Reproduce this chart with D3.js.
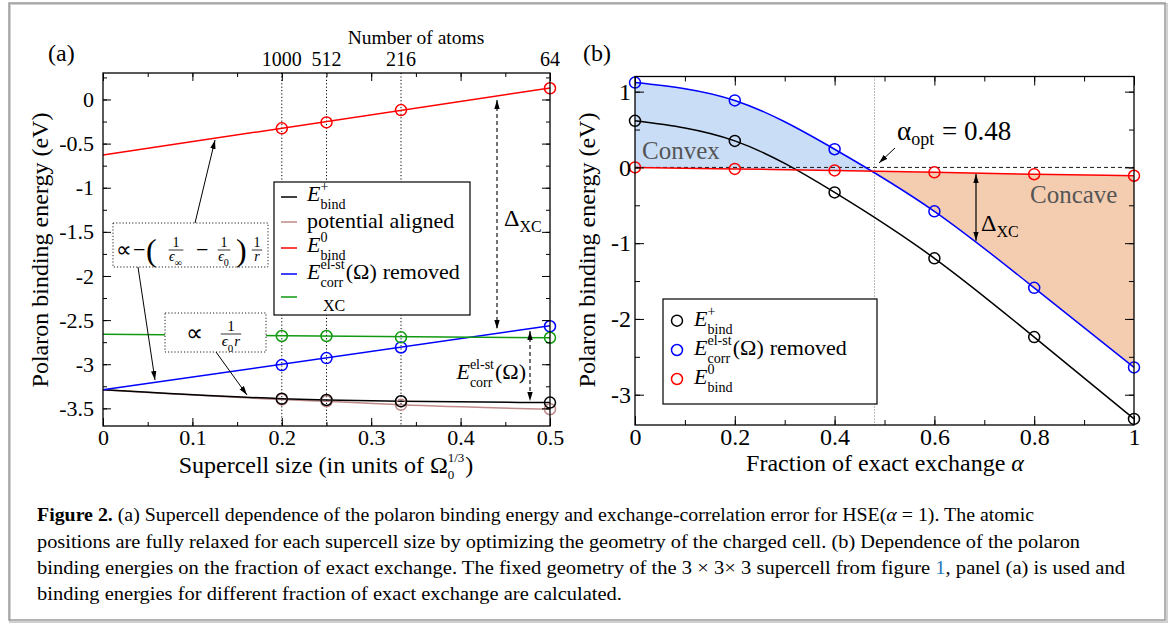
<!DOCTYPE html>
<html>
<head>
<meta charset="utf-8">
<script src="https://cdn.jsdelivr.net/npm/d3@7"></script>
<style>
body { margin: 0; background: #fff; }
svg, svg text { font-family: "Liberation Serif", "Times New Roman", Times, serif; }
</style>
</head>
<body>
<svg id="fig" width="1171" height="626" font-family="Liberation Serif, serif"></svg>
<script>
// panel (a): supercell size in units of Omega0^(1/3)
var sizes = [0.2, 0.25, 1/3, 0.5]
var atoms = ["1000", "512", "216", "64"]
var eBind = [-3.39, -3.405, -3.42, -3.435]
var eAligned = [-3.40, -3.42, -3.46, -3.51]
var eZero = [-0.327, -0.26, -0.12, 0.127]
var eRemoved = [-3.01, -2.93, -2.81, -2.57]
var eXC = [-2.68, -2.68, -2.695, -2.70]
// fitted lines, values at size 0 and size 0.5
var fitZero = [-0.63, 0.13]
var fitRemoved = [-3.29, -2.565]
var fitXC = [-2.66, -2.70]
var bindStart = -3.29
var aTicksX = [0, 0.1, 0.2, 0.3, 0.4, 0.5]
var aTicksY = [0, -0.5, -1, -1.5, -2, -2.5, -3, -3.5]

// panel (b): fraction of exact exchange
var alphas = [0, 0.2, 0.4, 0.6, 0.8, 1]
var bBind = [0.615, 0.35, -0.33, -1.20, -2.24, -3.32]
var bRemoved = [1.12, 0.884, 0.24, -0.58, -1.59, -2.64]
var bZero = [0, -0.02, -0.04, -0.065, -0.09, -0.11]
var alphaOpt = 0.48
var bTicksX = [0, 0.2, 0.4, 0.6, 0.8, 1]
var bTicksY = [1, 0, -1, -2, -3]

var NB = "\u00a0"
var svg = d3.select("#fig")
var defs = svg.append("defs")

defs.append("marker").attr("id", "ah")
	.attr("viewBox", "0 0 10 10").attr("refX", 10).attr("refY", 5)
	.attr("markerWidth", 9).attr("markerHeight", 9)
	.attr("markerUnits", "userSpaceOnUse").attr("orient", "auto-start-reverse")
	.append("path").attr("d", "M0,2L10,5L0,8Z").attr("fill", "#000")

// outer frame
svg.append("rect").attr("x", 10).attr("y", 4).attr("width", 1157).attr("height", 618)
	.attr("fill", "none").attr("stroke", "#d0d0d0").attr("stroke-width", 2)
svg.append("rect").attr("x", 9).attr("y", 3).attr("width", 1156).attr("height", 617)
	.attr("fill", "none").attr("stroke", "#9a9a9a").attr("stroke-width", 1.5)

// text with stacked super/subscripts
function mtext(g, x, y, pieces, fs, anchor) {
	var t = g.append("g")
	var cx = 0
	pieces.forEach(function(p) {
		if (p.t != null) {
			var el = t.append("text").attr("x", cx).attr("y", p.dy || 0)
				.attr("font-size", p.fs || fs).text(p.t.replace(/ /g, NB))
			if (p.i) el.attr("font-style", "italic")
			cx += el.node().getComputedTextLength() + (p.gap || 0)
		} else {
			var s = p.fs || fs * 0.64, w = 0
			if (p.sup) {
				var a = t.append("text").attr("x", cx).attr("y", -fs * (p.supOff || 0.46)).attr("font-size", s).text(p.sup)
				w = Math.max(w, a.node().getComputedTextLength())
			}
			if (p.sub) {
				var b = t.append("text").attr("x", cx).attr("y", fs * (p.subOff || 0.37)).attr("font-size", s).text(p.sub)
				w = Math.max(w, b.node().getComputedTextLength())
			}
			cx += w + 1
		}
	})
	var dx = anchor == "middle" ? -cx / 2 : anchor == "end" ? -cx : 0
	t.attr("transform", "translate(" + (x + dx) + "," + y + ")")
	return t
}

function frac(g, cx, cy, num, den, fs) {
	g.append("text").attr("x", cx).attr("y", cy - 3).attr("text-anchor", "middle")
		.attr("font-size", fs).text(num)
	var d = mtext(g, cx, cy + fs * 0.8, den, fs, "middle")
	var w = Math.max(d.node().getBBox().width, fs * 0.6) + 2
	g.append("line").attr("x1", cx - w / 2).attr("x2", cx + w / 2).attr("y1", cy).attr("y2", cy)
		.attr("stroke", "#000").attr("stroke-width", 0.8)
}

function axes(g, x, y, o) {
	var fmt = function(d) { return String(d) }
	var add = function(axis, tx) {
		var a = g.append("g").attr("transform", tx).call(axis)
		a.select(".domain").remove()
		a.attr("font-family", null).attr("font-size", o.fs)
		a.selectAll("line").attr("stroke", "#000")
		return a
	}
	var x0 = x.range()[0], x1 = x.range()[1], y0 = y.range()[0], y1 = y.range()[1]
	add(d3.axisBottom(x).tickValues(o.xm).tickSize(-o.minor).tickFormat(""), "translate(0," + y0 + ")")
	add(d3.axisTop(x).tickValues(o.xm).tickSize(-o.minor).tickFormat(""), "translate(0," + y1 + ")")
	add(d3.axisLeft(y).tickValues(o.ym).tickSize(-o.minor).tickFormat(""), "translate(" + x0 + ",0)")
	add(d3.axisRight(y).tickValues(o.ym).tickSize(-o.minor).tickFormat(""), "translate(" + x1 + ",0)")
	add(d3.axisBottom(x).tickValues(o.xt).tickSize(-o.major).tickPadding(3).tickFormat(fmt), "translate(0," + y0 + ")")
	add(d3.axisTop(x).tickValues(o.xt).tickSize(-o.major).tickFormat(""), "translate(0," + y1 + ")")
	add(d3.axisLeft(y).tickValues(o.yt).tickSize(-o.major).tickPadding(o.padY).tickFormat(fmt), "translate(" + x0 + ",0)")
	add(d3.axisRight(y).tickValues(o.yt).tickSize(-o.major).tickFormat(""), "translate(" + x1 + ",0)")
	g.append("rect").attr("x", x0).attr("y", y1).attr("width", x1 - x0).attr("height", y0 - y1)
		.attr("fill", "none").attr("stroke", "#000").attr("stroke-width", 1.3)
}

// ---------------- panel (a) ----------------
var xa = d3.scaleLinear().domain([0, 0.5]).range([103, 550])
var ya = d3.scaleLinear().domain([-3.7, 0.3]).range([426, 73])
var ga = svg.append("g")
var lineA = d3.line().x(function(d) { return xa(d[0]) }).y(function(d) { return ya(d[1]) })
var pts = function(vals) { return sizes.map(function(s, i) { return [s, vals[i]] }) }

sizes.slice(0, 3).forEach(function(s) {
	ga.append("line").attr("x1", xa(s)).attr("x2", xa(s)).attr("y1", ya.range()[1]).attr("y2", ya.range()[0])
		.attr("stroke", "#000").attr("stroke-width", 1).attr("stroke-dasharray", "1.2,2.2")
})

var seriesA = [
	{color: "#c08a8a", line: [[0, bindStart]].concat(pts(eAligned)), vals: eAligned, curve: d3.curveMonotoneX},
	{color: "#000", line: [[0, bindStart]].concat(pts(eBind)), vals: eBind, curve: d3.curveMonotoneX},
	{color: "#ff0000", line: [[0, fitZero[0]], [0.5, fitZero[1]]], vals: eZero, curve: d3.curveLinear},
	{color: "#0000ff", line: [[0, fitRemoved[0]], [0.5, fitRemoved[1]]], vals: eRemoved, curve: d3.curveLinear},
	{color: "#119911", line: [[0, fitXC[0]], [0.5, fitXC[1]]], vals: eXC, curve: d3.curveLinear}
]
seriesA.forEach(function(s) {
	ga.append("path").attr("d", lineA.curve(s.curve)(s.line))
		.attr("fill", "none").attr("stroke", s.color).attr("stroke-width", 1.5)
})
seriesA.forEach(function(s) {
	ga.selectAll(null).data(pts(s.vals)).join("circle")
		.attr("cx", function(d) { return xa(d[0]) }).attr("cy", function(d) { return ya(d[1]) })
		.attr("r", 5.5).attr("fill", "none").attr("stroke", s.color).attr("stroke-width", 1.5)
})

axes(ga, xa, ya, {xt: aTicksX, xm: d3.range(0, 0.51, 0.05), yt: aTicksY, ym: d3.range(-3.5, 0.3, 0.25),
	major: 8, minor: 4, fs: 22, padY: 9})

// top axis: number of atoms
sizes.forEach(function(s, i) {
	ga.append("text").attr("x", xa(s)).attr("y", 66).attr("text-anchor", "middle")
		.attr("font-size", 20).text(atoms[i])
})
ga.append("text").attr("x", 416).attr("y", 44).attr("text-anchor", "middle")
	.attr("font-size", 19.5).text("Number of atoms")
ga.append("text").attr("x", 48).attr("y", 61).attr("font-size", 24).text("(a)")

ga.append("text").attr("transform", "translate(48,250) rotate(-90)").attr("text-anchor", "middle")
	.attr("font-size", 24).text("Polaron binding energy (eV)")
mtext(ga, 326, 473, [{t: "Supercell size (in units of Ω"}, {sub: "0", sup: "1/3", fs: 13, subOff: 0.25, supOff: 0.45}, {t: ")"}], 24, "middle")

// legend (a)
var la = ga.append("g")
la.append("rect").attr("x", 274).attr("y", 182).attr("width", 196).attr("height", 133)
	.attr("fill", "#fff").attr("stroke", "#000").attr("stroke-width", 1.2)
var legA = [
	{color: "#000", y: 197, pieces: [{t: "E", i: true}, {sup: "+", sub: "bind"}], ty: 201},
	{color: "#c08a8a", y: 222, pieces: [{t: "potential aligned"}], ty: 228},
	{color: "#ff0000", y: 248, pieces: [{t: "E", i: true}, {sup: "0", sub: "bind"}], ty: 252},
	{color: "#0000ff", y: 274, pieces: [{t: "E", i: true}, {sup: "el-st", sub: "corr"}, {t: "(Ω)", gap: 6}, {t: "removed"}], ty: 279},
	{color: "#119911", y: 297, pieces: [{t: "XC", fs: 16}], ty: 311, tx: 323}
]
legA.forEach(function(d) {
	la.append("line").attr("x1", 281).attr("x2", 297).attr("y1", d.y).attr("y2", d.y)
		.attr("stroke", d.color).attr("stroke-width", 1.5)
	mtext(la, d.tx || 307, d.ty, d.pieces, 22)
})

// annotation boxes
var box1 = ga.append("g")
box1.append("rect").attr("x", 113).attr("y", 223).attr("width", 155).attr("height", 44)
	.attr("fill", "#fff").attr("stroke", "#222").attr("stroke-width", 1).attr("stroke-dasharray", "1.2,2")
box1.append("text").attr("x", 116).attr("y", 257).attr("font-size", 22).text("∝")
box1.append("text").attr("x", 133).attr("y", 257).attr("font-size", 22).text("−")
box1.append("text").attr("x", 146).attr("y", 261).attr("font-size", 32).text("(")
frac(box1, 176, 250, "1", [{t: "ϵ", i: true}, {sub: "∞", fs: 10}], 14)
box1.append("text").attr("x", 196).attr("y", 257).attr("font-size", 22).text("−")
frac(box1, 224, 250, "1", [{t: "ϵ", i: true}, {sub: "0", fs: 10}], 14)
box1.append("text").attr("x", 236).attr("y", 261).attr("font-size", 32).text(")")
frac(box1, 257, 250, "1", [{t: "r", i: true}], 14)

var box2 = ga.append("g")
box2.append("rect").attr("x", 165).attr("y", 313).attr("width", 101).attr("height", 39)
	.attr("fill", "#fff").attr("stroke", "#222").attr("stroke-width", 1).attr("stroke-dasharray", "1.2,2")
box2.append("text").attr("x", 186).attr("y", 341).attr("font-size", 24).text("∝")
frac(box2, 231, 334, "1", [{t: "ϵ", i: true}, {sub: "0", fs: 11}, {t: "r", i: true}], 15)

var arrows = [[195, 223, 215, 140], [138, 267, 155, 380], [216, 352, 247, 395]]
arrows.forEach(function(a) {
	ga.append("line").attr("x1", a[0]).attr("y1", a[1]).attr("x2", a[2]).attr("y2", a[3])
		.attr("stroke", "#000").attr("stroke-width", 1).attr("marker-end", "url(#ah)")
})

// dashed double arrows
ga.append("line").attr("x1", 497).attr("x2", 497).attr("y1", 100).attr("y2", 329)
	.attr("stroke", "#000").attr("stroke-width", 1.1).attr("stroke-dasharray", "4,3")
	.attr("marker-start", "url(#ah)").attr("marker-end", "url(#ah)")
ga.append("line").attr("x1", 530).attr("x2", 530).attr("y1", 331).attr("y2", 401)
	.attr("stroke", "#000").attr("stroke-width", 1.1).attr("stroke-dasharray", "4,3")
	.attr("marker-start", "url(#ah)").attr("marker-end", "url(#ah)")
mtext(ga, 504, 226, [{t: "Δ", fs: 24}, {sub: "XC", fs: 16, subOff: 0.25}], 24)
mtext(ga, 526, 379, [{t: "E", i: true}, {sup: "el-st", sub: "corr", fs: 14}, {t: "(Ω)"}], 22, "end")

// ---------------- panel (b) ----------------
var xb = d3.scaleLinear().domain([0, 1]).range([635, 1134])
var yb = d3.scaleLinear().domain([-3.4, 1.2]).range([425, 76.5])
var gb = svg.append("g")
var ptsB = function(vals) { return alphas.map(function(a, i) { return [a, vals[i]] }) }

defs.append("clipPath").attr("id", "cvx").append("rect")
	.attr("x", xb(0)).attr("y", yb(1.2)).attr("width", xb(alphaOpt) - xb(0)).attr("height", yb(-3.4) - yb(1.2))
defs.append("clipPath").attr("id", "ccv").append("rect")
	.attr("x", xb(alphaOpt)).attr("y", yb(1.2)).attr("width", xb(1) - xb(alphaOpt)).attr("height", yb(-3.4) - yb(1.2))

var band = d3.area().curve(d3.curveNatural)
	.x(function(d, i) { return xb(alphas[i]) })
	.y0(function(d, i) { return yb(bZero[i]) })
	.y1(function(d, i) { return yb(bRemoved[i]) })
gb.append("path").attr("d", band(alphas)).attr("fill", "#c9ddf7").attr("clip-path", "url(#cvx)")
gb.append("path").attr("d", band(alphas)).attr("fill", "#f4cdb1").attr("clip-path", "url(#ccv)")

gb.append("line").attr("x1", xb(0)).attr("x2", xb(1)).attr("y1", yb(0)).attr("y2", yb(0))
	.attr("stroke", "#000").attr("stroke-width", 0.9).attr("stroke-dasharray", "4,3")
gb.append("line").attr("x1", xb(alphaOpt)).attr("x2", xb(alphaOpt)).attr("y1", yb(1.2)).attr("y2", yb(-3.4))
	.attr("stroke", "#777").attr("stroke-width", 1).attr("stroke-dasharray", "1,2")

var lineB = d3.line().curve(d3.curveNatural)
	.x(function(d) { return xb(d[0]) }).y(function(d) { return yb(d[1]) })
var seriesB = [
	{color: "#000", vals: bBind},
	{color: "#0000ff", vals: bRemoved},
	{color: "#ff0000", vals: bZero}
]
seriesB.forEach(function(s) {
	gb.append("path").attr("d", lineB(ptsB(s.vals)))
		.attr("fill", "none").attr("stroke", s.color).attr("stroke-width", 1.5)
})
seriesB.forEach(function(s) {
	gb.selectAll(null).data(ptsB(s.vals)).join("circle")
		.attr("cx", function(d) { return xb(d[0]) }).attr("cy", function(d) { return yb(d[1]) })
		.attr("r", 5.5).attr("fill", "none").attr("stroke", s.color).attr("stroke-width", 1.5)
})

axes(gb, xb, yb, {xt: bTicksX, xm: d3.range(0, 1.01, 0.1), yt: bTicksY, ym: d3.range(-3, 1.01, 0.5),
	major: 9, minor: 5, fs: 24, padY: 4})

gb.append("text").attr("x", 583).attr("y", 61).attr("font-size", 24).text("(b)")
gb.append("text").attr("transform", "translate(595,250) rotate(-90)").attr("text-anchor", "middle")
	.attr("font-size", 24).text("Polaron binding energy (eV)")
mtext(gb, 885, 471, [{t: "Fraction of exact exchange "}, {t: "α", i: true}], 24, "middle")

gb.append("text").attr("x", 642).attr("y", 159).attr("font-size", 25).attr("fill", "#555").text("Convex")
gb.append("text").attr("x", 1030).attr("y", 203).attr("font-size", 25).attr("fill", "#555").text("Concave")
mtext(gb, 897, 140, [{t: "α"}, {sub: "opt", fs: 18, subOff: 0.2}, {t: " = 0.48"}], 27)
gb.append("line").attr("x1", 895).attr("y1", 148).attr("x2", 879).attr("y2", 163)
	.attr("stroke", "#000").attr("stroke-width", 1).attr("marker-end", "url(#ah)")

gb.append("line").attr("x1", 976).attr("x2", 976).attr("y1", yb(-0.075) + 1).attr("y2", yb(-0.98) - 1)
	.attr("stroke", "#000").attr("stroke-width", 1.2)
	.attr("marker-start", "url(#ah)").attr("marker-end", "url(#ah)")
mtext(gb, 981, 231, [{t: "Δ", fs: 24}, {sub: "XC", fs: 16, subOff: 0.25}], 24)

// legend (b)
var lb = gb.append("g")
lb.append("rect").attr("x", 663).attr("y", 299).attr("width", 214).attr("height", 105)
	.attr("fill", "#fff").attr("stroke", "#000").attr("stroke-width", 1.2)
var legB = [
	{color: "#000", y: 320.7, pieces: [{t: "E", i: true}, {sup: "+", sub: "bind"}]},
	{color: "#0000ff", y: 350, pieces: [{t: "E", i: true}, {sup: "el-st", sub: "corr"}, {t: "(Ω)", gap: 6}, {t: "removed"}]},
	{color: "#ff0000", y: 379, pieces: [{t: "E", i: true}, {sup: "0", sub: "bind"}]}
]
legB.forEach(function(d) {
	lb.append("circle").attr("cx", 677).attr("cy", d.y).attr("r", 5.5)
		.attr("fill", "none").attr("stroke", d.color).attr("stroke-width", 1.5)
	mtext(lb, 694, d.y + 5, d.pieces, 22)
})

// ---------------- caption ----------------
var cap = svg.append("g").attr("font-size", 18)
var l1 = cap.append("text").attr("x", 37).attr("y", 521).attr("textLength", 997).attr("lengthAdjust", "spacingAndGlyphs")
l1.append("tspan").attr("font-weight", "bold").text("Figure 2.")
l1.append("tspan").text(" (a) Supercell dependence of the polaron binding energy and exchange-correlation error for HSE(")
l1.append("tspan").attr("font-style", "italic").text("α")
l1.append("tspan").text(" = 1). The atomic")
cap.append("text").attr("x", 37).attr("y", 548).attr("textLength", 1043).attr("lengthAdjust", "spacingAndGlyphs")
	.text("positions are fully relaxed for each supercell size by optimizing the geometry of the charged cell. (b) Dependence of the polaron")
var l3 = cap.append("text").attr("x", 37).attr("y", 574).attr("textLength", 1088).attr("lengthAdjust", "spacingAndGlyphs")
l3.append("tspan").text("binding energies on the fraction of exact exchange. The fixed geometry of the 3 × 3× 3 supercell from figure ")
l3.append("tspan").attr("fill", "#2a7ab8").text("1")
l3.append("tspan").text(", panel (a) is used and")
cap.append("text").attr("x", 37).attr("y", 600).attr("textLength", 585).attr("lengthAdjust", "spacingAndGlyphs")
	.text("binding energies for different fraction of exact exchange are calculated.")
</script>
</body>
</html>
